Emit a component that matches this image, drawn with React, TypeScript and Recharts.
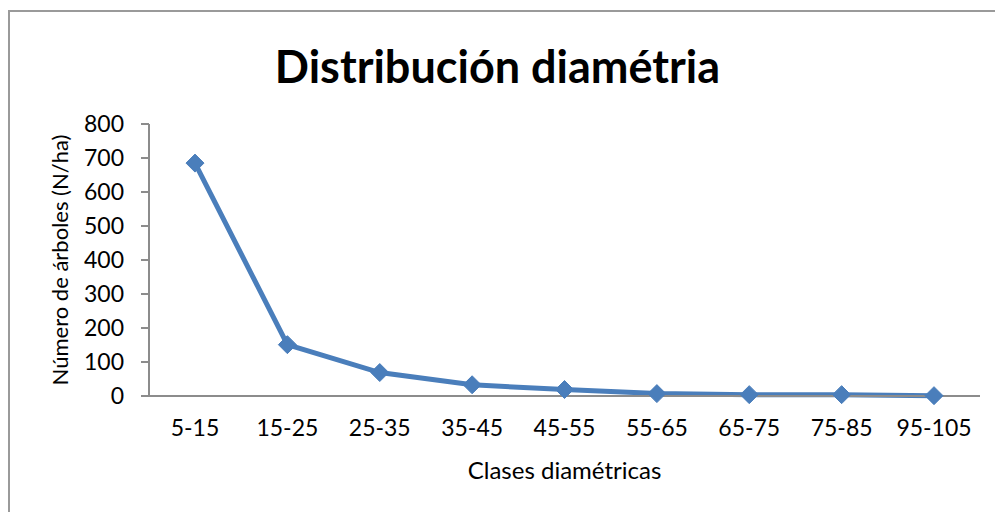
import React from 'react';
import { LineChart, Line, XAxis, YAxis, Label } from 'recharts';

const categories = ['5-15', '15-25', '25-35', '35-45', '45-55', '55-65', '65-75', '75-85', '95-105'];
const trees = [685, 151, 69, 33, 19, 7, 4, 4, 1];
const yTicks = [0, 100, 200, 300, 400, 500, 600, 700, 800];

const data = categories.map((clase, i) => ({ clase, arboles: trees[i] }));

const FONT = 'Lato, "Liberation Sans", sans-serif';
const BLUE = '#4a7ebb';
const tickStyle = { fontSize: 23, fontFamily: FONT, fill: '#000' };
const labelStyle = { fontSize: 23, fontFamily: FONT, fill: '#000' };

// diamond marker, centered on the point recharts computed
const Diamond = (props: any) => {
  const { cx, cy } = props;
  if (cx == null || cy == null) return null;
  const r = 9;
  return (
    <polygon
      points={`${cx},${cy - r} ${cx + r},${cy} ${cx},${cy + r} ${cx - r},${cy}`}
      fill={BLUE}
      stroke={BLUE}
      strokeWidth={1}
    />
  );
};

export default function App() {
  return (
    <div style={{ position: 'absolute', left: 0, top: 0, width: 995, height: 512, background: '#fff', overflow: 'hidden' }}>
      <div
        style={{
          position: 'absolute',
          left: 8,
          top: 10,
          width: 1000,
          height: 520,
          borderTop: '2px solid #9a9a9a',
          borderLeft: '2px solid #9a9a9a',
        }}
      />
      <div
        style={{
          position: 'absolute',
          left: 0,
          top: 36,
          width: 995,
          textAlign: 'center',
          fontFamily: FONT,
          fontWeight: 'bold',
          fontSize: 45,
          lineHeight: '60px',
          color: '#000',
        }}
      >
        Distribución diamétria
      </div>
      <div style={{ position: 'absolute', left: 0, top: 0 }}>
        <LineChart width={995} height={512} data={data} margin={{ top: 124, right: 15, left: 0, bottom: 86 }}>
          <XAxis
            dataKey="clase"
            height={30}
            padding={{ left: 46, right: 46 }}
            axisLine={{ stroke: '#8c8c8c', strokeWidth: 2 }}
            tickLine={false}
            tickSize={8}
            tickMargin={16}
            fontSize={23}
            tick={tickStyle}
            interval={0}
          >
            <Label value="Clases diamétricas" position="bottom" offset={36} style={{ ...labelStyle, fontSize: 24 }} />
          </XAxis>
          <YAxis
            domain={[0, 800]}
            ticks={yTicks}
            interval={0}
            width={149}
            axisLine={{ stroke: '#8c8c8c', strokeWidth: 2 }}
            tickLine={{ stroke: '#8c8c8c', strokeWidth: 2 }}
            tickSize={8}
            tickMargin={17}
            fontSize={23}
            tick={tickStyle}
          >
            <Label
              value="Número de árboles (N/ha)"
              angle={-90}
              position="insideLeft"
              offset={60}
              style={{ ...labelStyle, fontSize: 22, textAnchor: 'middle' }}
            />
          </YAxis>
          <Line
            type="linear"
            dataKey="arboles"
            stroke={BLUE}
            strokeWidth={5}
            dot={<Diamond />}
            activeDot={false}
            isAnimationActive={false}
          />
        </LineChart>
      </div>
    </div>
  );
}
